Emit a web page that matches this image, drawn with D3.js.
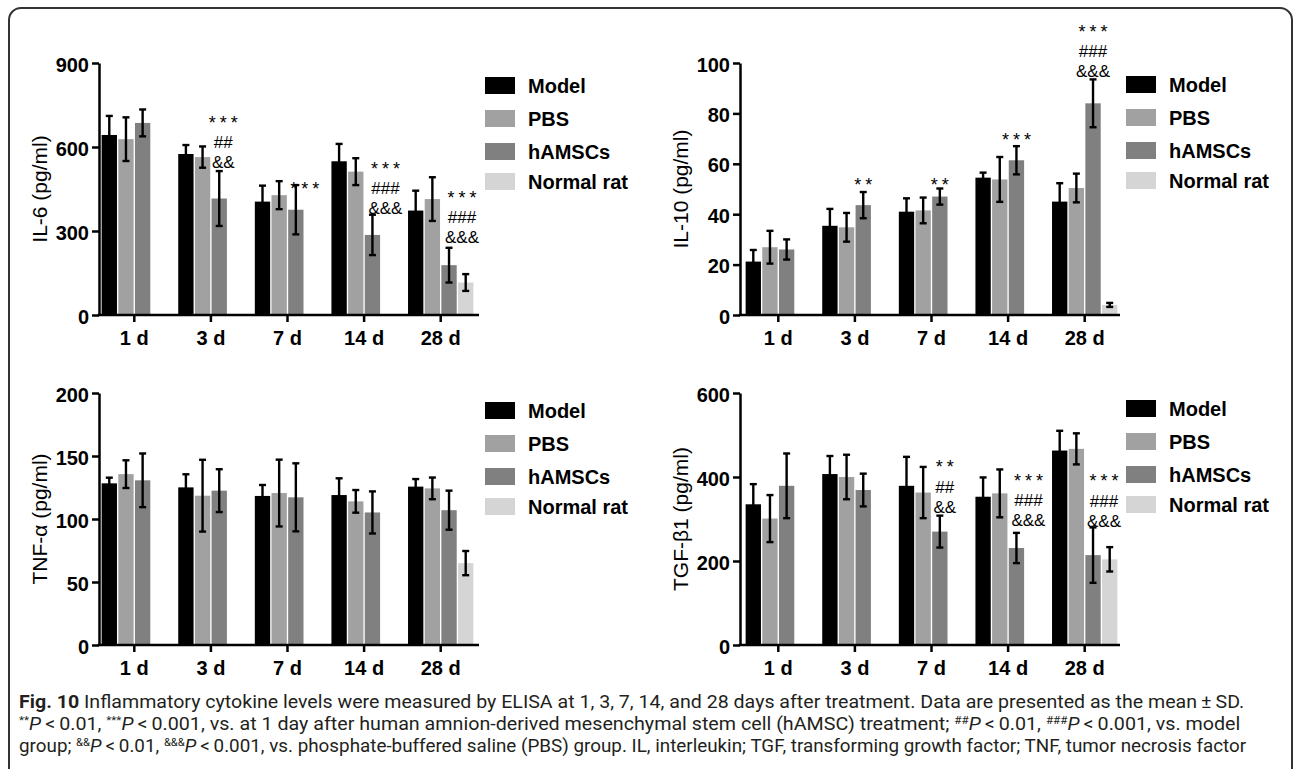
<!DOCTYPE html>
<html>
<head>
<meta charset="utf-8">
<script src="https://cdn.jsdelivr.net/npm/d3@7"></script>
<style>
  body { margin: 0; background: #fff; }
  svg { display: block; }
</style>
</head>
<body>
<svg id="fig" width="1295" height="769"></svg>
<script>
const days = ["1 d", "3 d", "7 d", "14 d", "28 d"];
const groups = ["Model", "PBS", "hAMSCs", "Normal rat"];
const groupColors = ["#000000", "#a1a1a1", "#808080", "#d5d5d5"];

// mean values, one row per group (Model, PBS, hAMSCs, Normal rat)
const il6Mean = [
  [643, 575, 405, 549, 373],
  [628, 564, 428, 512, 414],
  [686, 416, 376, 286, 178],
  [null, null, null, null, 116]
];
const il6Sd = [
  [68, 32, 57, 62, 71],
  [78, 38, 50, 48, 78],
  [48, 98, 88, 72, 62],
  [null, null, null, null, 30]
];
const il10Mean = [
  [21.2, 35.4, 41.0, 54.5, 45.0],
  [26.9, 34.8, 41.5, 53.8, 50.4],
  [26.0, 43.6, 47.0, 61.4, 84.0],
  [null, null, null, null, 4.0]
];
const il10Sd = [
  [4.6, 6.7, 5.3, 2.0, 7.3],
  [6.5, 5.7, 5.1, 8.9, 5.7],
  [4.0, 5.2, 3.2, 5.6, 9.5],
  [null, null, null, null, 0.8]
];
const tnfMean = [
  [128.3, 125.1, 118.3, 119.0, 125.7],
  [135.6, 118.5, 120.6, 114.0, 124.3],
  [130.7, 122.5, 117.2, 105.2, 107.0],
  [null, null, null, null, 65.0]
];
const tnfSd = [
  [4.5, 10.4, 8.7, 13.3, 6.0],
  [11.0, 28.5, 26.5, 9.0, 8.6],
  [21.3, 17.0, 27.0, 16.7, 15.5],
  [null, null, null, null, 9.6]
];
const tgfMean = [
  [335, 407, 379, 353, 463],
  [301, 400, 363, 361, 467],
  [379, 369, 270, 231, 214],
  [null, null, null, null, 204]
];
const tgfSd = [
  [48, 43, 69, 46, 47],
  [56, 53, 61, 57, 37],
  [77, 39, 38, 36, 66],
  [null, null, null, null, 29]
];

const il6Ticks = [0, 300, 600, 900];
const il10Ticks = [0, 20, 40, 60, 80, 100];
const tnfTicks = [0, 50, 100, 150, 200];
const tgfTicks = [0, 200, 400, 600];

// significance marks above the hAMSCs bar
const il6Notes = [
  { day: "3 d", lines: ["***", "##", "&&"] },
  { day: "7 d", lines: ["***"] },
  { day: "14 d", lines: ["***", "###", "&&&"] },
  { day: "28 d", lines: ["***", "###", "&&&"] }
];
const il10Notes = [
  { day: "3 d", lines: ["**"] },
  { day: "7 d", lines: ["**"] },
  { day: "14 d", lines: ["***"] },
  { day: "28 d", lines: ["***", "###", "&&&"] }
];
const tgfNotes = [
  { day: "7 d", lines: ["**", "##", "&&"] },
  { day: "14 d", lines: ["***", "###", "&&&"] },
  { day: "28 d", lines: ["***", "###", "&&&"] }
];

// placement tweaks for the marks: [dx from bar centre, gap above error bar]
const notePlace = {
  il6: { "3 d": [4, 9], "7 d": [9, 0], "14 d": [13, 7], "28 d": [13, 11] },
  il10: { "3 d": [0, 11], "7 d": [0, 8], "14 d": [0, 10], "28 d": [0, 8] },
  tgf: { "7 d": [5, 9], "14 d": [12, 13], "28 d": [11, 7] }
};

const panels = [
  { key: "il6", label: "IL-6 (pg/ml)", mean: il6Mean, sd: il6Sd, max: 900, ticks: il6Ticks, notes: il6Notes,
    axisX: 99, top: 63, shift: -3, legendTop: 77 },
  { key: "il10", label: "IL-10 (pg/ml)", mean: il10Mean, sd: il10Sd, max: 100, ticks: il10Ticks, notes: il10Notes,
    axisX: 740, top: 63, shift: 0, legendTop: 76 },
  { key: "tnf", label: "TNF-\u03b1 (pg/ml)", mean: tnfMean, sd: tnfSd, max: 200, ticks: tnfTicks, notes: [],
    axisX: 99, top: 393, shift: -3, legendTop: 402 },
  { key: "tgf", label: "TGF-\u03b21 (pg/ml)", mean: tgfMean, sd: tgfSd, max: 600, ticks: tgfTicks, notes: tgfNotes,
    axisX: 740, top: 393, shift: 0, legendTop: 400 }
];

const plotH = 252, axisLen = 380, step = 76.6;
const legendRows = [0, 33, 66, 96];
const armFont = "'Liberation Sans', Arial, Helvetica, sans-serif";

const svg = d3.select("#fig");

// outer frame (open at the bottom edge of the picture)
svg.append("rect")
  .attr("x", 9).attr("y", 8).attr("width", 1283).attr("height", 800)
  .attr("rx", 12).attr("fill", "none").attr("stroke", "#333").attr("stroke-width", 2);

panels.forEach(function (p) {
  let g = svg.append("g");
  let y0 = p.top + plotH;

  let y = d3.scaleLinear().domain([0, p.max]).range([y0, p.top]);
  let x = d3.scaleBand().domain(days)
    .range([p.axisX + p.shift, p.axisX + p.shift + step * days.length])
    .paddingInner(0.147).paddingOuter(0.0735);
  let xs = d3.scaleBand().domain(groups).range([0, x.bandwidth()]).paddingInner(0.08);

  let rowsFor = gi => days.map((d, di) => ({ day: d, v: p.mean[gi][di], sd: p.sd[gi][di] }))
    .filter(r => r.v !== null);

  // bars
  groups.forEach(function (grp, gi) {
    g.selectAll(null).data(rowsFor(gi)).enter().append("rect")
      .attr("x", r => x(r.day) + xs(grp))
      .attr("width", xs.bandwidth())
      .attr("y", r => y(r.v))
      .attr("height", r => y(0) - y(r.v))
      .attr("fill", groupColors[gi]);
  });

  // error bars
  groups.forEach(function (grp, gi) {
    let cx = r => x(r.day) + xs(grp) + xs.bandwidth() / 2;
    let eb = g.selectAll(null).data(rowsFor(gi)).enter().append("g")
      .attr("stroke", "#000").attr("stroke-width", 2.4);
    eb.append("line")
      .attr("x1", cx).attr("x2", cx)
      .attr("y1", r => y(r.v - r.sd)).attr("y2", r => y(r.v + r.sd));
    eb.append("line")
      .attr("x1", r => cx(r) - 3.5).attr("x2", r => cx(r) + 3.5)
      .attr("y1", r => y(r.v + r.sd)).attr("y2", r => y(r.v + r.sd));
    eb.append("line")
      .attr("x1", r => cx(r) - 3.5).attr("x2", r => cx(r) + 3.5)
      .attr("y1", r => y(r.v - r.sd)).attr("y2", r => y(r.v - r.sd));
  });

  // y axis
  let ya = g.append("g").attr("transform", "translate(" + p.axisX + ",0)")
    .call(d3.axisLeft(y).tickValues(p.ticks).tickSize(7).tickPadding(3).tickSizeOuter(0));
  ya.select(".domain").attr("stroke-width", 2.5);
  ya.selectAll(".tick line").attr("stroke-width", 2.5);
  ya.selectAll("text")
    .attr("font-family", armFont).attr("font-size", 20).attr("font-weight", "bold")
    .attr("fill", "#000").attr("dy", "0.4em");

  // x axis
  let xa = g.append("g").attr("transform", "translate(0," + y0 + ")")
    .call(d3.axisBottom(x).tickSize(7).tickSizeOuter(0));
  xa.select(".domain").remove();
  xa.selectAll(".tick line").attr("stroke-width", 2.5);
  xa.selectAll("text")
    .attr("font-family", armFont).attr("font-size", 20).attr("font-weight", "bold")
    .attr("fill", "#000").attr("y", 30).attr("dy", 0);
  g.append("line")
    .attr("x1", p.axisX - 1.25).attr("x2", p.axisX + axisLen)
    .attr("y1", y0).attr("y2", y0)
    .attr("stroke", "#000").attr("stroke-width", 2.5);

  // axis title
  g.append("text")
    .attr("transform", "translate(" + (p.axisX - 52.5) + "," + (p.top + plotH / 2) + ") rotate(-90)")
    .attr("text-anchor", "middle")
    .attr("font-family", armFont).attr("font-size", 21)
    .attr("fill", "#000")
    .text(p.label);

  // legend
  let lx = p.axisX + 386;
  groups.forEach(function (grp, gi) {
    let ly = p.legendTop + legendRows[gi];
    g.append("rect").attr("x", lx).attr("y", ly).attr("width", 30).attr("height", 17)
      .attr("fill", groupColors[gi]);
    g.append("text").attr("x", lx + 43).attr("y", ly + 16)
      .attr("font-family", armFont).attr("font-size", 20).attr("font-weight", "bold")
      .attr("fill", "#000").text(grp);
  });

  // significance marks, stacked upward from just above the hAMSCs error bar
  p.notes.forEach(function (n) {
    let di = days.indexOf(n.day);
    let place = notePlace[p.key][n.day];
    let cx = x(n.day) + xs("hAMSCs") + xs.bandwidth() / 2 + place[0];
    let cy = y(p.mean[2][di] + p.sd[2][di]) - place[1];
    let txt = g.append("text")
      .attr("text-anchor", "middle")
      .attr("font-family", armFont)
      .attr("fill", "#000");
    for (let li = n.lines.length - 1; li >= 0; li--) {
      let t = n.lines[li];
      let star = t.indexOf("*") === 0;
      txt.append("tspan")
        .attr("x", cx + (star ? 2 : 0))
        .attr("y", cy + (star ? 10.3 : 6.1))
        .attr("font-size", star ? 18 : 17)
        .attr("letter-spacing", star ? 4 : 0)
        .text(t);
      if (li > 0) cy -= n.lines[li - 1].indexOf("*") === 0 ? 23.5 : 20;
    }
  });
});

// caption
const captionLines = [
  [{ t: "Fig. 10", s: "b" }, { t: " Inflammatory cytokine levels were measured by ELISA at 1, 3, 7, 14, and 28 days after treatment. Data are presented as the mean\u2009\u00b1\u2009SD." }],
  [{ t: "**", s: "sup" }, { t: "P", s: "i" }, { t: "\u2009<\u20090.01, " }, { t: "***", s: "sup" }, { t: "P", s: "i" },
   { t: "\u2009<\u20090.001, vs. at 1 day after human amnion-derived mesenchymal stem cell (hAMSC) treatment; " },
   { t: "##", s: "sup" }, { t: "P", s: "i" }, { t: "\u2009<\u20090.01, " }, { t: "###", s: "sup" }, { t: "P", s: "i" },
   { t: "\u2009<\u20090.001, vs. model" }],
  [{ t: "group; " }, { t: "&&", s: "sup" }, { t: "P", s: "i" }, { t: "\u2009<\u20090.01, " }, { t: "&&&", s: "sup" }, { t: "P", s: "i" },
   { t: "\u2009<\u20090.001, vs. phosphate-buffered saline (PBS) group. IL, interleukin; TGF, transforming growth factor; TNF, tumor necrosis factor" }]
];
const captionBase = [708, 730, 752];
const captionEnd = [1245, 1241, 1247];
const capX = 19;

captionLines.forEach(function (segs, li) {
  let txt = svg.append("text")
    .attr("font-family", "Roboto, 'Liberation Sans', sans-serif")
    .attr("font-size", 18.5).attr("fill", "#231f20");
  let raised = false;
  segs.forEach(function (s) {
    let ts = txt.append("tspan").text(s.t);
    if (s.s === "b") ts.attr("font-weight", "bold");
    if (s.s === "i") ts.attr("font-style", "italic");
    if (s.s === "sup") {
      ts.attr("font-size", 11).attr("dy", -6.5);
      raised = true;
    } else if (raised) {
      ts.attr("dy", 6.5);
      raised = false;
    }
  });
  let w = txt.node().getBBox().width;
  let sx = (captionEnd[li] - capX) / w;
  txt.attr("transform", "translate(" + capX + "," + captionBase[li] + ") scale(" + sx + ",1)");
});
</script>
</body>
</html>
